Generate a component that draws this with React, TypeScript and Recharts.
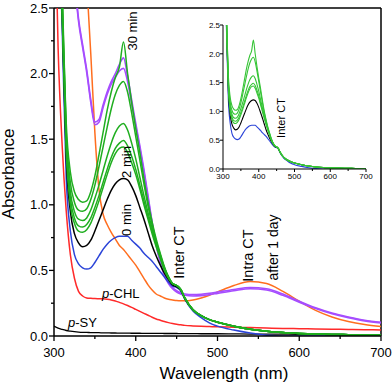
import React from 'react';
import { LineChart, Line, XAxis, YAxis, ReferenceLine } from 'recharts';

const FONT = "'Liberation Sans', Arial, sans-serif";

const wavelengths = [300,305,310,315,320,325,330,335,340,345,350,355,360,365,370,375,380,385,390,395,400,405,410,415,420,425,430,435,440,445,450,455,460,470,480,490,500,520,540,560,580,600,620,640,660,680,700];

const pSY = [0.075,0.06,0.05,0.042,0.037,0.033,0.03,0.028,0.027,0.026,0.025,0.025,0.024,0.024,0.023,0.023,0.022,0.022,0.022,0.021,0.021,0.021,0.02,0.02,0.02,0.02,0.02,0.019,0.019,0.019,0.019,0.018,0.018,0.018,0.017,0.017,0.017,0.016,0.015,0.015,0.014,0.013,0.013,0.012,0.011,0.011,0.01];

const pCHL = [3.6,2.2,1.45,0.95,0.62,0.44,0.34,0.305,0.29,0.287,0.285,0.284,0.283,0.28,0.275,0.267,0.256,0.245,0.232,0.218,0.203,0.188,0.173,0.158,0.143,0.13,0.12,0.11,0.102,0.095,0.089,0.085,0.081,0.077,0.074,0.072,0.07,0.067,0.064,0.061,0.058,0.056,0.054,0.052,0.05,0.048,0.046];

const after1dayOrange = [6,5.6,5.2,4.8,4.4,4.0,3.6,3.2,2.7,2.15,1.55,1.12,0.93,0.85,0.79,0.74,0.69,0.66,0.62,0.58,0.54,0.49,0.44,0.39,0.35,0.32,0.305,0.29,0.28,0.275,0.27,0.268,0.268,0.275,0.29,0.31,0.335,0.385,0.415,0.4,0.34,0.265,0.195,0.145,0.11,0.087,0.072];

const after1dayPurpleA = [6,5.2,4.4,3.7,3.2,2.75,2.42,2.22,2.03,1.8,1.63,1.65,1.76,1.86,1.94,2.0,2.07,2.12,1.98,1.8,1.62,1.45,1.27,1.07,0.87,0.7,0.57,0.47,0.41,0.37,0.345,0.33,0.32,0.315,0.318,0.325,0.335,0.355,0.37,0.36,0.32,0.265,0.215,0.175,0.145,0.12,0.105];

const after1dayPurpleB = [6,5.2,4.4,3.7,3.2,2.73,2.4,2.2,2.01,1.78,1.61,1.63,1.74,1.84,1.92,1.97,2.02,2.04,1.94,1.77,1.6,1.43,1.25,1.05,0.86,0.69,0.56,0.46,0.4,0.36,0.335,0.32,0.31,0.305,0.308,0.315,0.325,0.345,0.36,0.35,0.31,0.258,0.21,0.17,0.14,0.115,0.1];

const min0 = [5,3.5,2.35,1.2,0.8,0.62,0.55,0.52,0.51,0.52,0.56,0.61,0.66,0.7,0.73,0.75,0.76,0.76,0.76,0.73,0.7,0.67,0.63,0.6,0.57,0.53,0.49,0.45,0.41,0.38,0.37,0.345,0.28,0.19,0.14,0.1,0.075,0.045,0.022,0.006,0,0,0,0,0,0,0];

const min2 = [5,3.6,2.45,1.35,0.95,0.78,0.71,0.68,0.69,0.73,0.8,0.88,0.96,1.04,1.11,1.16,1.19,1.2,1.19,1.14,1.07,0.98,0.89,0.79,0.69,0.61,0.54,0.48,0.43,0.39,0.375,0.35,0.285,0.2,0.155,0.125,0.105,0.075,0.052,0.036,0.026,0.02,0.015,0.012,0.01,0.008,0.006];

const greenTail = [0.4,0.385,0.355,0.29,0.2,0.155,0.125,0.105,0.075,0.052,0.036,0.026,0.02,0.015,0.012,0.01,0.008,0.006];

const g5 = [5,3.6,2.45,1.4,1.0,0.86,0.8,0.79,0.81,0.86,0.94,1.03,1.13,1.23,1.32,1.39,1.43,1.44,1.4,1.32,1.23,1.12,1.0,0.89,0.78,0.68,0.59,0.5,0.44, ...greenTail];
const g4 = [5,3.7,2.5,1.45,1.05,0.9,0.84,0.83,0.85,0.9,0.98,1.07,1.17,1.27,1.36,1.43,1.47,1.49,1.45,1.37,1.27,1.15,1.03,0.91,0.8,0.7,0.6,0.51,0.45, ...greenTail];
const g3 = [5.1,3.7,2.55,1.5,1.1,0.95,0.89,0.88,0.9,0.96,1.05,1.15,1.26,1.37,1.47,1.55,1.6,1.62,1.57,1.47,1.35,1.21,1.07,0.94,0.82,0.71,0.61,0.52,0.45, ...greenTail];
const g2 = [5.1,3.8,2.6,1.55,1.17,1.02,0.96,0.95,0.97,1.04,1.15,1.29,1.44,1.59,1.73,1.84,1.91,1.94,1.86,1.7,1.52,1.34,1.16,0.99,0.85,0.72,0.62,0.52,0.45, ...greenTail];
const min30 = [5.2,3.8,2.65,1.62,1.25,1.1,1.04,1.02,1.03,1.1,1.22,1.38,1.55,1.72,1.86,1.97,2.05,2.24,2.0,1.78,1.58,1.4,1.2,1.02,0.87,0.74,0.63,0.53,0.45, ...greenTail];

const xTicks = [300,350,400,450,500,550,600,650,700];
const yTicks = [0,0.25,0.5,0.75,1,1.25,1.5,1.75,2,2.25,2.5];
const insetYTicks = [0,0.5,1,1.5,2,2.5];

const rows = wavelengths.map((w, i) => ({
  w,
  pSY: pSY[i],
  pCHL: pCHL[i],
  orange: after1dayOrange[i],
  purpleA: after1dayPurpleA[i],
  purpleB: after1dayPurpleB[i],
  min0: min0[i],
  min2: min2[i],
  g5: g5[i],
  g4: g4[i],
  g3: g3[i],
  g2: g2[i],
  min30: min30[i],
}));

const C = {
  black: '#000000',
  red: '#ff2a2a',
  orange: '#ff6e1f',
  purple: '#a64dff',
  blue: '#2b44d8',
  green: '#1fae1f',
  greenInset: '#35c435',
};

function makeXTick(o: { major: number; minor: number; dy: number; fs: number; sw: number }) {
  return (p: any) => {
    const v = p.payload.value;
    const isMajor = Math.abs(v % 100) < 1e-6;
    return (
      <g>
        <line x1={p.x} x2={p.x} y1={p.y} y2={p.y + (isMajor ? o.major : o.minor)} stroke="#000" strokeWidth={o.sw} />
        {isMajor && (
          <text x={p.x} y={p.y + o.dy} textAnchor="middle" fontSize={o.fs} fontFamily={FONT} fill="#000">{v}</text>
        )}
      </g>
    );
  };
}

function makeYTick(o: { major: number; minor: number; dx: number; fs: number; sw: number }) {
  return (p: any) => {
    const v = p.payload.value;
    const isMajor = Math.abs(v * 2 - Math.round(v * 2)) < 1e-6;
    return (
      <g>
        <line x1={p.x} x2={p.x - (isMajor ? o.major : o.minor)} y1={p.y} y2={p.y} stroke="#000" strokeWidth={o.sw} />
        {isMajor && (
          <text x={p.x - o.dx} y={p.y} dy="0.36em" textAnchor="end" fontSize={o.fs} fontFamily={FONT} fill="#000">{v.toFixed(1)}</text>
        )}
      </g>
    );
  };
}

const rot = (x: number, y: number) => `rotate(-90 ${x} ${y})`;

export default function App() {
  const mainLines: [string, string, number][] = [
    ['pSY', C.black, 1.3],
    ['pCHL', C.red, 1.5],
    ['orange', C.orange, 1.5],
    ['purpleA', C.purple, 1.6],
    ['purpleB', C.purple, 1.6],
    ['min0', C.blue, 1.5],
    ['min2', C.black, 1.5],
    ['g5', C.green, 1.5],
    ['g4', C.green, 1.5],
    ['g3', C.green, 1.5],
    ['g2', C.green, 1.5],
    ['min30', C.green, 1.5],
  ];
  const insetLines: [string, string][] = [
    ['min0', C.blue],
    ['min2', C.black],
    ['g5', C.greenInset],
    ['g4', C.greenInset],
    ['g3', C.greenInset],
    ['g2', C.greenInset],
    ['min30', C.greenInset],
  ];
  return (
    <div style={{ position: 'absolute', left: 0, top: 0, width: 392, height: 387, background: '#fff' }}>
      <div style={{ position: 'absolute', left: 0, top: 0 }}>
        <LineChart width={392} height={387} data={rows} margin={{ top: 8, right: 11, bottom: 21, left: 0 }}>
          <XAxis
            dataKey="w"
            type="number"
            domain={[300, 700]}
            ticks={xTicks}
            allowDataOverflow
            height={30}
            tickSize={0}
            tickMargin={0}
            tickLine={false}
            axisLine={{ stroke: '#000', strokeWidth: 1.5 }}
            tick={makeXTick({ major: 5, minor: 3, dy: 21, fs: 13, sw: 1.3 })}
            interval={0}
          />
          <YAxis
            type="number"
            domain={[0, 2.5]}
            ticks={yTicks}
            allowDataOverflow
            width={54}
            tickSize={0}
            tickMargin={0}
            tickLine={false}
            axisLine={{ stroke: '#000', strokeWidth: 1.5 }}
            tick={makeYTick({ major: 5, minor: 3, dx: 6, fs: 13, sw: 1.3 })}
            interval={0}
          />
          <ReferenceLine y={2.5} stroke="#000" strokeWidth={1.5} />
          <ReferenceLine x={700} stroke="#000" strokeWidth={1.5} />
          {mainLines.map(([k, c, sw]) => (
            <Line key={k} dataKey={k} stroke={c} strokeWidth={sw} dot={false} type="monotone" isAnimationActive={false} />
          ))}
        </LineChart>
      </div>
      <div style={{ position: 'absolute', left: 195, top: 20 }}>
        <LineChart width={186} height={170} data={rows} margin={{ top: 5, right: 15, bottom: 6, left: 0 }}>
          <XAxis
            dataKey="w"
            type="number"
            domain={[300, 700]}
            ticks={xTicks}
            allowDataOverflow
            height={15}
            tickSize={0}
            tickMargin={0}
            tickLine={false}
            axisLine={{ stroke: '#000', strokeWidth: 1 }}
            tick={makeXTick({ major: 3, minor: 2, dy: 10, fs: 8, sw: 1 })}
            interval={0}
          />
          <YAxis
            type="number"
            domain={[0, 2.5]}
            ticks={insetYTicks}
            allowDataOverflow
            width={28}
            tickSize={0}
            tickMargin={0}
            tickLine={false}
            axisLine={{ stroke: '#000', strokeWidth: 1 }}
            tick={makeYTick({ major: 3, minor: 2, dx: 3, fs: 8, sw: 1 })}
            interval={0}
          />
          {insetLines.map(([k, c]) => (
            <Line key={k} dataKey={k} stroke={c} strokeWidth={1.1} dot={false} type="monotone" isAnimationActive={false} />
          ))}
        </LineChart>
      </div>
      <svg width={392} height={387} style={{ position: 'absolute', left: 0, top: 0, pointerEvents: 'none' }} fontFamily={FONT}>
        <text x={224} y={379} textAnchor="middle" fontSize={17} fill="#000">Wavelength (nm)</text>
        <text x={14} y={174} textAnchor="middle" fontSize={17} fill="#000" transform={rot(14, 174)}>Absorbance</text>
        <text x={137} y={31} textAnchor="middle" fontSize={13} fill="#000" transform={rot(137, 31)}>30 min</text>
        <text x={130.5} y={162} textAnchor="middle" fontSize={13} fill="#000" transform={rot(130.5, 162)}>2 min</text>
        <text x={130.5} y={220} textAnchor="middle" fontSize={13} fill="#000" transform={rot(130.5, 220)}>0 min</text>
        <text x={184} y={252.5} textAnchor="middle" fontSize={14.5} fill="#000" transform={rot(184, 252.5)}>Inter CT</text>
        <text x={253} y={255.5} textAnchor="middle" fontSize={14.5} fill="#000" transform={rot(253, 255.5)}>Intra CT</text>
        <text x={278} y={247.5} textAnchor="middle" fontSize={14} fill="#000" transform={rot(278, 247.5)}>after 1 day</text>
        <text x={102} y={298} fontSize={13} fill="#000"><tspan fontStyle="italic">p</tspan>-CHL</text>
        <text x={68} y={327} fontSize={13} fill="#000"><tspan fontStyle="italic">p</tspan>-SY</text>
        <text x={285} y={118} textAnchor="middle" fontSize={11} fill="#000" transform={rot(285, 118)}>Inter CT</text>
      </svg>
    </div>
  );
}
